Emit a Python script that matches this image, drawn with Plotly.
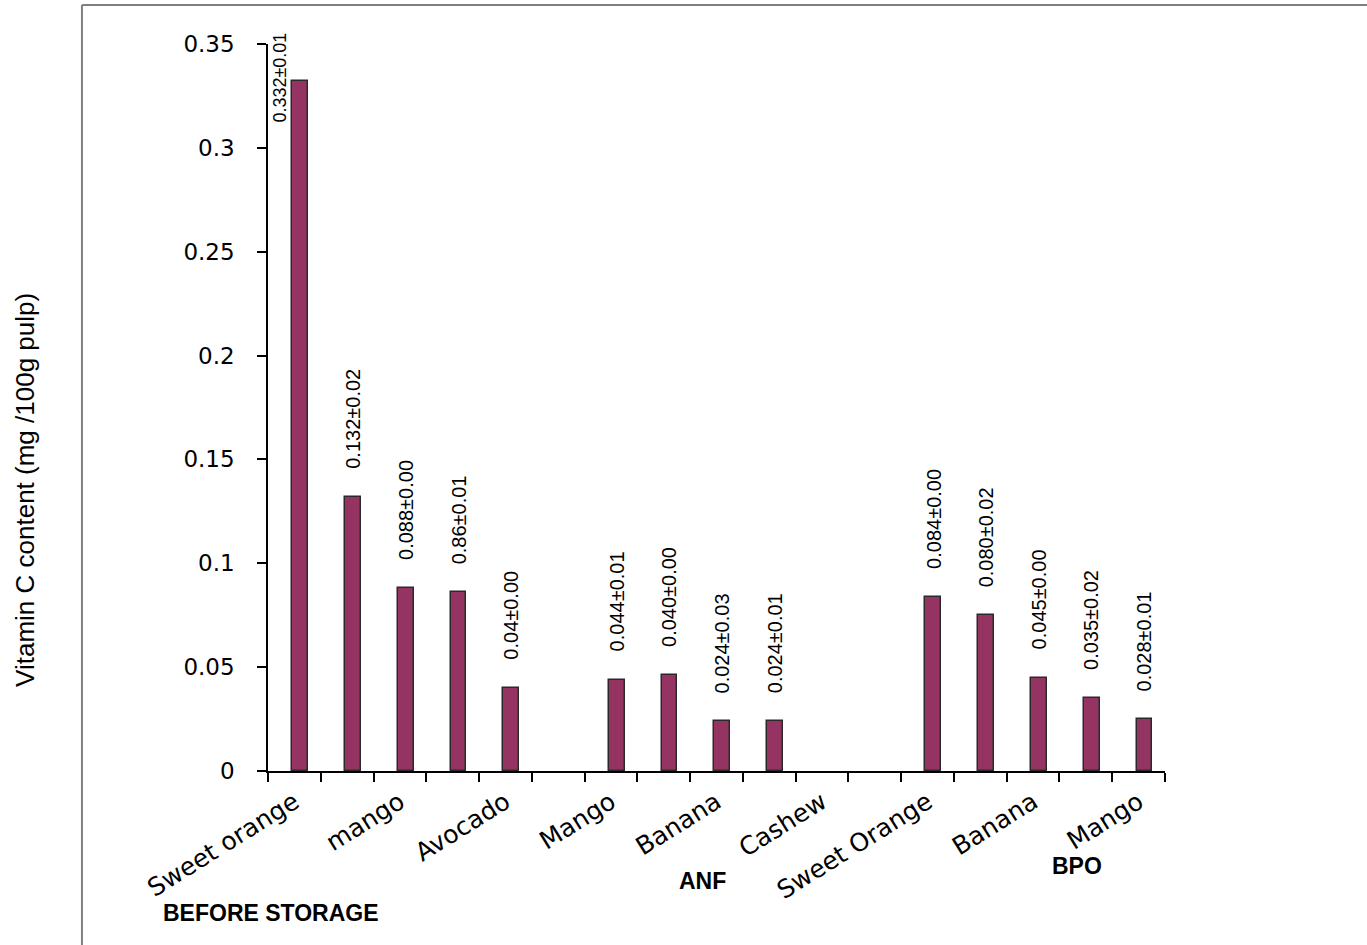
import plotly.graph_objects as go

# ---- data ----
slot_names = ["Sweet orange", "", "mango", "", "Avocado", "", "Mango", "", "Banana", "",
              "Cashew", "", "Sweet Orange", "", "Banana", "", "Mango"]
vitc_values = [0.332, 0.132, 0.088, 0.086, 0.040, None, 0.044, 0.046, 0.024, 0.024,
               None, None, 0.084, 0.075, 0.045, 0.035, 0.025]
value_labels = ["0.332±0.01", "0.132±0.02", "0.088±0.00", "0.86±0.01", "0.04±0.00", "",
                "0.044±0.01", "0.040±0.00", "0.024±0.03", "0.024±0.01", "", "",
                "0.084±0.00", "0.080±0.02", "0.045±0.00", "0.035±0.02", "0.028±0.01"]
group_names = ["BEFORE STORAGE", "ANF", "BPO"]
y_ticks = [0, 0.05, 0.1, 0.15, 0.2, 0.25, 0.3, 0.35]
y_ticktext = ["0", "0.05", "0.1", "0.15", "0.2", "0.25", "0.3", "0.35"]

x_idx = list(range(len(slot_names)))
label_idx = [i for i, n in enumerate(slot_names) if n]

BAR_W = 0.3
BAR_SHIFT = 0.11

fig = go.Figure()
fig.add_trace(go.Bar(
    x=x_idx, y=vitc_values, width=BAR_W, offset=-BAR_W / 2 + BAR_SHIFT,
    marker=dict(color="#953463", line=dict(color="#2a2a2a", width=1.5)),
    hoverinfo="skip", showlegend=False,
))

annotations = []
YMAX = 0.35
lab_font = dict(family="Liberation Sans, Arial", size=20, color="black")
for i, (v, t) in enumerate(zip(vitc_values, value_labels)):
    if v is None or not t:
        continue
    if v > 0.3:
        # no room above: label sits to the left of the bar
        annotations.append(dict(x=i + BAR_SHIFT, y=v, xref="x", yref="y", text=t,
                                textangle=-90, showarrow=False, xanchor="center",
                                yanchor="middle", xshift=-20, yshift=4,
                                font=dict(family="Liberation Sans, Arial", size=18, color="black")))
    else:
        annotations.append(dict(x=i + BAR_SHIFT, y=v, xref="x", yref="y", text=t,
                                textangle=-90, showarrow=False, xanchor="center",
                                yanchor="bottom", yshift=26, font=lab_font))

# group labels
group_pos = [(-0.44, -0.195), (7.74, -0.151), (14.84, -0.131)]
for name, (gx, gy) in zip(group_names, group_pos):
    annotations.append(dict(x=gx, y=gy, xref="x", yref="paper", text="<b>%s</b>" % name,
                            showarrow=False, xanchor="center", yanchor="middle",
                            font=dict(family="Liberation Sans, Arial", size=23, color="black")))

# y-axis title
annotations.append(dict(x=-0.271, y=0.3865, xref="paper", yref="paper",
                        text="Vitamin C content (mg /100g pulp)", textangle=-90,
                        showarrow=False, xanchor="center", yanchor="middle",
                        font=dict(family="Liberation Sans, Arial", size=26, color="black")))

fig.update_layout(
    width=1367, height=945,
    margin=dict(l=268, r=202, t=44, b=174),
    paper_bgcolor="white", plot_bgcolor="white",
    bargap=0,
    annotations=annotations,
    xaxis=dict(
        range=[-0.5, len(slot_names) - 0.5],
        tickmode="array", tickvals=label_idx, ticktext=[slot_names[i] for i in label_idx],
        tickangle=-32, ticks="", showgrid=False, zeroline=False,
        showline=True, linecolor="black", linewidth=1.5,
        tickfont=dict(family="DejaVu Sans", size=25, color="black"),
        ticklabelstandoff=5,
        minor=dict(tickmode="array", tickvals=[i - 0.5 for i in range(len(slot_names) + 1)],
                   ticks="outside", ticklen=9, tickcolor="black", tickwidth=1.5, showgrid=False),
        fixedrange=True,
    ),
    yaxis=dict(
        range=[0, YMAX], tickmode="array", tickvals=y_ticks, ticktext=y_ticktext,
        ticks="outside", ticklen=9, tickcolor="black", tickwidth=1.5,
        showline=True, linecolor="black", linewidth=1.5, showgrid=False, zeroline=False,
        tickfont=dict(family="DejaVu Sans", size=23, color="black"),
        ticklabelstandoff=18,
        fixedrange=True,
    ),
    shapes=[
        dict(type="line", xref="paper", yref="paper", x0=-0.2074, x1=-0.2074, y0=1.0536, y1=-0.25,
             line=dict(color="#7f7f7f", width=2)),
        dict(type="line", xref="paper", yref="paper", x0=-0.2074, x1=1.3, y0=1.0536, y1=1.0536,
             line=dict(color="#7f7f7f", width=2)),
    ],
)

fig.write_html("out.html")
